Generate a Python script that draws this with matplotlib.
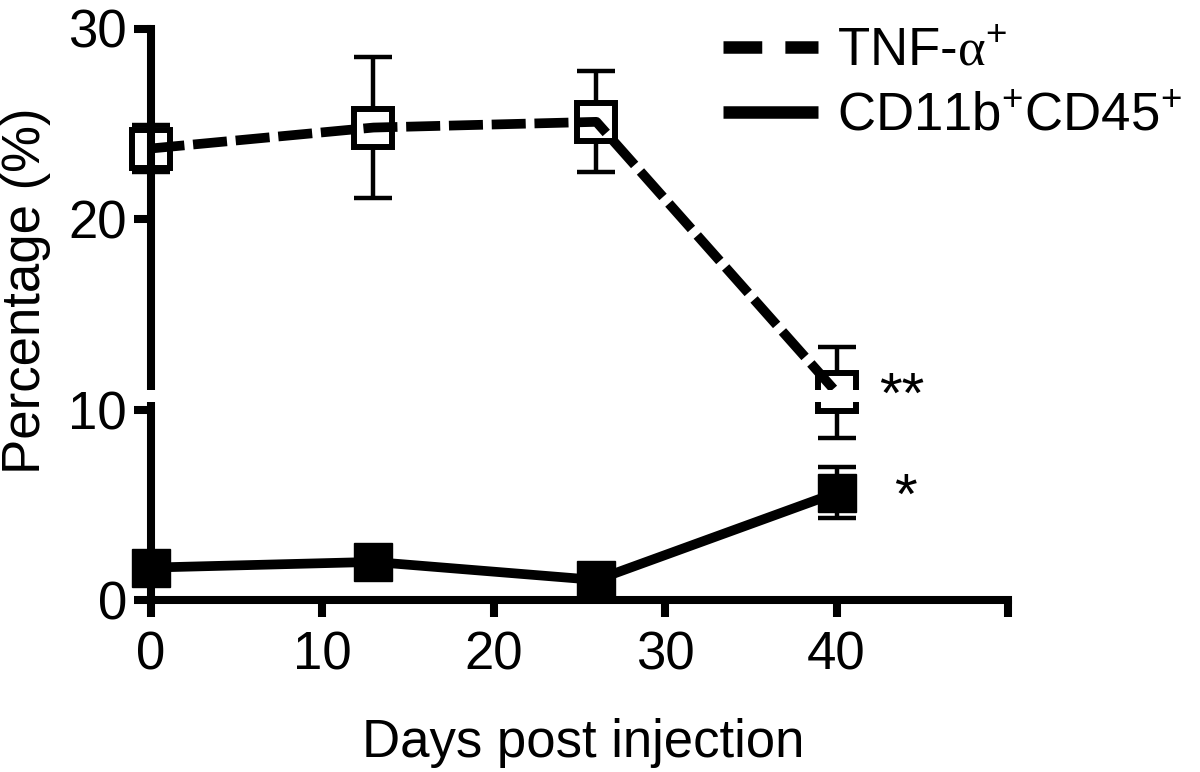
import matplotlib
matplotlib.use("Agg")
import matplotlib.pyplot as plt
from matplotlib.lines import Line2D
from matplotlib.patches import Rectangle

# data
days = [0, 13, 26, 40]
tnf_mean = [23.7, 24.8, 25.1, 10.9]
tnf_sem = [1.25, 3.7, 2.65, 2.4]
cd_mean = [1.7, 2.0, 1.05, 5.63]
cd_sem = [0.4, 0.4, 0.4, 1.33]
xticks = [0, 10, 20, 30, 40, 50]
xticklabels = ["0", "10", "20", "30", "40", ""]
yticks = [0, 10, 20, 30]
labels = [r"TNF-$\mathrm{\alpha}^{\mathsf{+}}$", r"CD11b$^{\mathsf{+}}$CD45$^{\mathsf{+}}$"]
stars = ["**", "*"]

plt.rcParams['font.family'] = ['Liberation Sans', 'DejaVu Sans']
plt.rcParams['mathtext.fontset'] = 'custom'
plt.rcParams['mathtext.rm'] = 'Liberation Serif'
plt.rcParams['mathtext.sf'] = 'Liberation Sans'
plt.rcParams['mathtext.it'] = 'Liberation Sans:italic'

FS = 38

fig = plt.figure(figsize=(12, 7.72), dpi=100)
ax = fig.add_axes([150.5 / 1200, 172 / 772, 857.5 / 1200, 571.5 / 772])

# error bars (under the markers)
ax.errorbar(days, tnf_mean, yerr=tnf_sem, fmt='none', ecolor='black',
            elinewidth=3.2, capsize=14, capthick=3.2, zorder=2, clip_on=False)
ax.errorbar(days, cd_mean, yerr=cd_sem, fmt='none', ecolor='black',
            elinewidth=3.2, capsize=14, capthick=3.2, zorder=2, clip_on=False)

# markers
ax.plot(days, tnf_mean, linestyle='none', marker='s', markersize=27,
        markerfacecolor='white', markeredgecolor='black', markeredgewidth=4.3,
        zorder=3, clip_on=False)
ax.plot(days, cd_mean, linestyle='none', marker='s', markersize=27,
        markerfacecolor='black', markeredgecolor='black', markeredgewidth=1,
        zorder=3, clip_on=False)

# connecting lines on top
ax.plot(days, tnf_mean, color='black', linewidth=7, linestyle=(0, (3.5, 0.9)),
        dash_capstyle='butt', zorder=4, clip_on=False)
ax.plot(days, cd_mean, color='black', linewidth=7, solid_capstyle='butt',
        zorder=4, clip_on=False)

# white stripe across the plot (as in the original)
ax.add_patch(Rectangle((-0.9, 10.37), 43.0, 0.63, facecolor='white',
                       edgecolor='none', zorder=10, clip_on=False))

# significance marks
ax.text(43.8, tnf_mean[3] - 0.3, stars[0], fontsize=42,
        ha='center', va='center', zorder=11)
ax.text(44.0, cd_mean[3] - 0.3, stars[1], fontsize=42,
        ha='center', va='center', zorder=11)

ax.set_xlim(0, 50)
ax.set_ylim(0, 30)
ax.set_xticks(xticks)
ax.set_xticklabels(xticklabels)
ax.set_yticks(yticks)

for side in ['top', 'right']:
    ax.spines[side].set_visible(False)
for side in ['left', 'bottom']:
    ax.spines[side].set_linewidth(5.8)
    ax.spines[side].set_zorder(5)

ax.tick_params(axis='both', which='major', width=5.8, length=12, labelsize=FS,
               direction='out')
ax.tick_params(axis='x', pad=10)
ax.tick_params(axis='y', pad=5)

fig.text(583.5 / 1200, 1 - 743 / 772, "Days post injection", fontsize=FS,
         ha='center', va='center')
fig.text(26 / 1200, 1 - 291 / 772, "Percentage (%)", fontsize=FS,
         ha='center', va='center', rotation=90)

# legend
handles = [Line2D([], [], color='black', linewidth=9, linestyle=(0, (3.1, 1.85)),
                  dash_capstyle='butt'),
           Line2D([], [], color='black', linewidth=9, solid_capstyle='butt')]
fig.legend(handles, labels, loc='upper left', bbox_to_anchor=(723 / 1200, 1 - 26 / 772),
           frameon=False, fontsize=FS, handlelength=1.8, handletextpad=0.36,
           labelspacing=0.3, borderpad=0, borderaxespad=0)

fig.savefig("out.png", dpi=100)
